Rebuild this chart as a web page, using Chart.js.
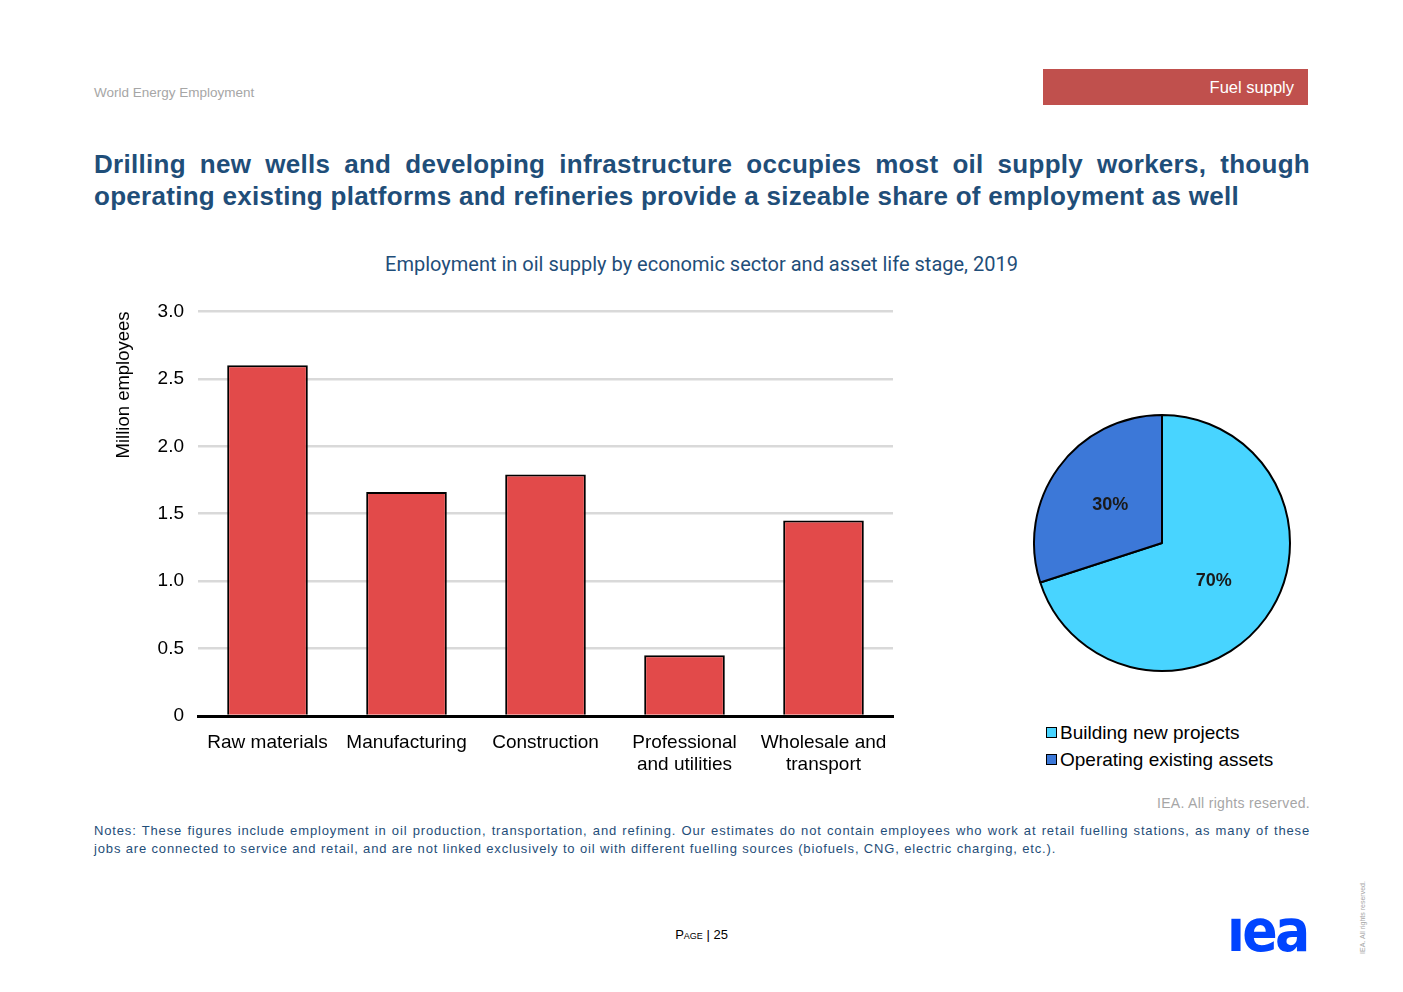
<!DOCTYPE html>
<html>
<head>
<meta charset="utf-8">
<script src="https://cdn.jsdelivr.net/npm/chart.js@4.4.1/dist/chart.umd.min.js"></script>
<style>
  body { margin: 0; width: 1403px; height: 992px; background: #fff; position: relative; font-family: "Liberation Sans", Arial, sans-serif; overflow: hidden; }
  .abs { position: absolute; }
  #header { left: 94px; top: 85px; font-size: 13.5px; color: #a6a6a6; }
  #tag { left: 1043px; top: 69px; width: 265px; height: 36px; background: #c0504d; color: #fff; font-size: 16.5px; line-height: 36px; text-align: right; box-sizing: border-box; padding-right: 14px; }
  #title { left: 94px; top: 148px; width: 1216px; font-size: 26px; font-weight: bold; color: #1f4e79; line-height: 32px; text-align: justify; letter-spacing: 0.28px; }
  #subtitle { left: 0; width: 1403px; top: 252px; text-align: center; font-size: 20px; color: #1f4e79; font-family: Roboto, sans-serif; }
  #legend { left: 1046px; top: 721px; font-size: 19px; color: #000; }
  #legend div { height: 27px; line-height: 24px; }
  #legend span.box { display: inline-block; width: 9px; height: 9px; border: 1.5px solid #000; margin-right: 3px; vertical-align: 1px; }
  #rights { left: 1000px; width: 310px; top: 795px; text-align: right; font-size: 14px; color: #a6a6a6; letter-spacing: 0.3px; }
  #notes { left: 94px; top: 822px; width: 1216px; font-size: 13px; color: #1f4e79; line-height: 18px; text-align: justify; letter-spacing: 0.85px; }
  #page { left: 0; width: 1403px; top: 927px; text-align: center; font-size: 13px; color: #000; font-variant: small-caps; }
  #logo { left: 1227px; top: 897px; font-size: 58px; font-weight: bold; color: #0044ff; letter-spacing: -3px; font-family: "DejaVu Sans", sans-serif; transform: scaleX(0.9); transform-origin: left top; }
  #vert { left: 1326px; top: 914px; font-size: 7px; color: #a6a6a6; transform: rotate(-90deg); white-space: nowrap; }
</style>
</head>
<body>
<div id="header" class="abs">World Energy Employment</div>
<div id="tag" class="abs">Fuel supply</div>
<div id="title" class="abs">Drilling new wells and developing infrastructure occupies most oil supply workers, though operating existing platforms and refineries provide a sizeable share of employment as well</div>
<div id="subtitle" class="abs">Employment in oil supply by economic sector and asset life stage, 2019</div>

<div class="abs" style="left:100px;top:286px;width:810px;height:514px;"><canvas id="barChart"></canvas></div>
<div class="abs" style="left:1030px;top:411px;width:264px;height:264px;"><canvas id="pieChart"></canvas></div>

<div id="legend" class="abs">
  <div><span class="box" style="background:#48d4ff"></span>Building new projects</div>
  <div><span class="box" style="background:#3c78d8"></span>Operating existing assets</div>
</div>
<div id="rights" class="abs">IEA. All rights reserved.</div>
<div id="notes" class="abs">Notes: These figures include employment in oil production, transportation, and refining. Our estimates do not contain employees who work at retail fuelling stations, as many of these jobs are connected to service and retail, and are not linked exclusively to oil with different fuelling sources (biofuels, CNG, electric charging, etc.).</div>
<div id="page" class="abs">Page | 25</div>
<div id="logo" class="abs">ıea</div>
<div id="vert" class="abs">IEA. All rights reserved.</div>

<script>
// Bar chart data
var sectors = [["Raw materials"], ["Manufacturing"], ["Construction"], ["Professional", "and utilities"], ["Wholesale and", "transport"]];
var employees = [2.6, 1.66, 1.79, 0.45, 1.45];
var yTicks = [0, 0.5, 1.0, 1.5, 2.0, 2.5, 3.0];

// Pie chart data
var stages = ["Building new projects", "Operating existing assets"];
var stageShare = [70, 30];
var stageColors = ["#48d4ff", "#3c78d8"];

var font = "'Liberation Sans', Arial, sans-serif";

var ctxBar = document.getElementById('barChart').getContext('2d');
var barChart = new Chart(ctxBar, {
  type: 'bar',
  data: {
    labels: sectors,
    datasets: [{
      data: employees,
      backgroundColor: '#e24a4a',
      borderColor: '#000',
      borderWidth: 2,
      borderSkipped: 'bottom',
      barPercentage: 0.58,
      categoryPercentage: 1
    }]
  },
  options: {
    responsive: true,
    maintainAspectRatio: false,
    animation: false,
    layout: { padding: { top: 16, right: 17, left: 0, bottom: 0 } },
    plugins: { legend: { display: false }, tooltip: { enabled: false } },
    scales: {
      x: {
        grid: { display: false, drawTicks: false },
        border: { color: '#000', width: 3 },
        ticks: { color: '#000', font: { family: font, size: 19 }, padding: 15, maxRotation: 0, autoSkip: false },
        afterFit: function (s) { s.height = 84; }
      },
      y: {
        min: 0,
        max: 3,
        afterBuildTicks: function (s) { s.ticks = yTicks.map(function (v) { return { value: v }; }); },
        grid: { color: '#d9d9d9', lineWidth: 2.5, drawTicks: false },
        border: { display: false },
        ticks: {
          color: '#000',
          font: { family: font, size: 19 },
          padding: 14,
          callback: function (v) { return v === 0 ? '0' : v.toFixed(1); }
        },
        title: { display: true, text: 'Million employees', align: 'end', color: '#000', font: { family: font, size: 18.5 }, padding: { top: 13, bottom: 0 } },
        afterFit: function (s) { s.width = 98; }
      }
    }
  }
});

// percentage labels on the pie slices
var pieLabels = {
  id: 'pieLabels',
  afterDatasetsDraw: function (chart) {
    var c = chart.ctx;
    var meta = chart.getDatasetMeta(0);
    var total = stageShare.reduce(function (a, b) { return a + b; }, 0);
    c.save();
    c.font = 'bold 18px ' + font;
    c.fillStyle = '#1a1a1a';
    c.textAlign = 'center';
    c.textBaseline = 'middle';
    meta.data.forEach(function (arc, i) {
      var p = arc.tooltipPosition();
      c.fillText(Math.round(stageShare[i] / total * 100) + '%', p.x, p.y);
    });
    c.restore();
  }
};

var ctxPie = document.getElementById('pieChart').getContext('2d');
var pieChart = new Chart(ctxPie, {
  type: 'pie',
  data: {
    labels: stages,
    datasets: [{
      data: stageShare,
      backgroundColor: stageColors,
      borderColor: '#000',
      borderWidth: 2
    }]
  },
  options: {
    responsive: true,
    maintainAspectRatio: false,
    animation: false,
    layout: { padding: 3 },
    plugins: { legend: { display: false }, tooltip: { enabled: false } }
  },
  plugins: [pieLabels]
});
</script>
</body>
</html>
